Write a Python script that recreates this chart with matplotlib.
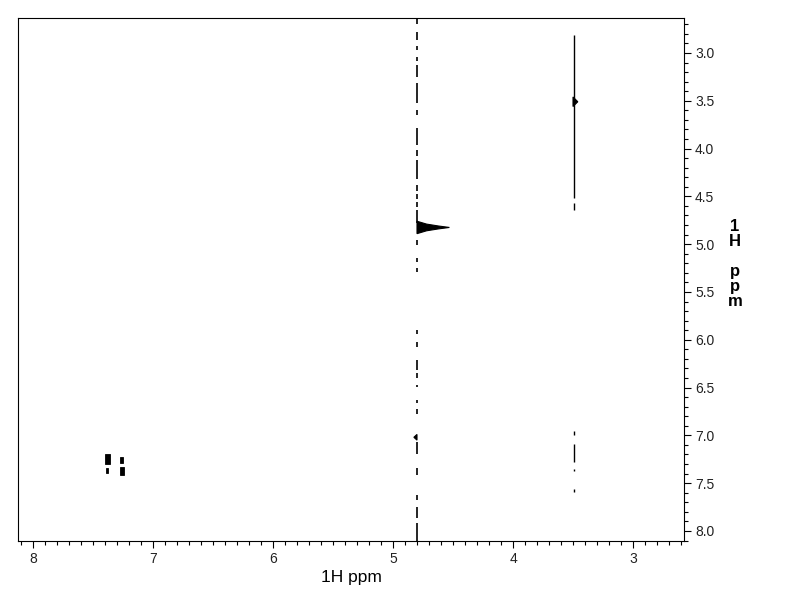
import matplotlib
matplotlib.use("Agg")
import matplotlib.pyplot as plt
from matplotlib.ticker import MultipleLocator, FormatStrFormatter

plt.rcParams['font.family'] = ['Liberation Sans', 'DejaVu Sans']

# ---- data (ppm) ----
x_range = (8.125, 2.575)
y_range = (8.105, 2.634)
x_ticks = [8, 7, 6, 5, 4, 3]
y_ticks = [3.0, 3.5, 4.0, 4.5, 5.0, 5.5, 6.0, 6.5, 7.0, 7.5, 8.0]

# t1 noise streak at water (4.80 ppm): segments (y start, y end)
water_x = 4.80
water_seg_start = [2.634, 2.78, 2.93, 3.04, 3.13, 3.31, 3.60, 3.78, 4.02, 4.12, 4.38, 4.47, 4.56,
                   4.64, 4.96, 5.14, 5.25, 5.90, 6.02, 6.21, 6.35, 6.47, 6.63, 6.72, 7.07, 7.34,
                   7.62, 7.75, 7.92]
water_seg_end = [2.70, 2.86, 2.97, 3.08, 3.25, 3.52, 3.65, 3.96, 4.08, 4.32, 4.44, 4.53, 4.61,
                 4.78, 5.01, 5.19, 5.29, 5.94, 6.08, 6.32, 6.40, 6.49, 6.66, 6.78, 7.20, 7.41,
                 7.68, 7.86, 8.105]

# t1 streak at 3.49 ppm
meth_x = 3.49
meth_seg_start = [2.81, 4.57, 6.95, 7.09, 7.35, 7.56]
meth_seg_end = [4.52, 4.64, 7.00, 7.28, 7.37, 7.59]

# cross peak polygons (x list, y list)
water_peak_x = [4.80, 4.80, 4.72, 4.62, 4.53, 4.62, 4.72]
water_peak_y = [4.76, 4.89, 4.86, 4.84, 4.825, 4.81, 4.79]
meth_peak_x = [3.50, 3.50, 3.46]
meth_peak_y = [3.46, 3.56, 3.51]
small_peak_x = [4.80, 4.80, 4.826]
small_peak_y = [6.99, 7.05, 7.02]

# aromatic peaks: rectangles (x0, x1, y0, y1)
arom_x0 = [7.400, 7.392, 7.272, 7.273]
arom_x1 = [7.362, 7.377, 7.248, 7.240]
arom_y0 = [7.200, 7.340, 7.225, 7.330]
arom_y1 = [7.300, 7.390, 7.290, 7.415]

fig = plt.figure(figsize=(7.92, 6.12), dpi=100)
ax = fig.add_axes([18/792, 1-541/612, (684-18)/792, (541-18)/612])

ax.vlines([water_x]*len(water_seg_start), water_seg_start, water_seg_end,
          colors='black', linewidth=1.2)
ax.vlines([meth_x]*len(meth_seg_start), meth_seg_start, meth_seg_end,
          colors='black', linewidth=1.0)
ax.fill(water_peak_x, water_peak_y, color='black', linewidth=0.8)
ax.fill(meth_peak_x, meth_peak_y, color='black', linewidth=0.8)
ax.fill(small_peak_x, small_peak_y, color='black', linewidth=0.8)
for x0, x1, y0, y1 in zip(arom_x0, arom_x1, arom_y0, arom_y1):
    ax.fill([x0, x1, x1, x0], [y0, y0, y1, y1], color='black', linewidth=0.6)

ax.set_xlim(*x_range)
ax.set_ylim(*y_range)

ax.set_xticks(x_ticks)
ax.xaxis.set_minor_locator(MultipleLocator(0.1))
ax.set_yticks(y_ticks)
ax.yaxis.set_minor_locator(MultipleLocator(0.1))
ax.yaxis.set_major_formatter(FormatStrFormatter('%.1f'))
ax.yaxis.tick_right()
ax.tick_params(axis='both', which='major', direction='out', length=5, width=0.8,
               labelsize=10, colors='black', pad=3)
ax.tick_params(axis='both', which='minor', direction='out', length=3, width=0.8)
ax.tick_params(axis='y', labelcolor='#222222')
ax.tick_params(axis='x', labelcolor='#222222')
for s in ax.spines.values():
    s.set_linewidth(0.8)

ax.set_xlabel('1H ppm', fontsize=12.5, labelpad=3)
fig.text(735/792, 1-264/612, '1\nH\n\np\np\nm', ha='center', va='center',
         fontsize=12, fontweight='bold', linespacing=1.0)

fig.savefig('out.png', dpi=100)
